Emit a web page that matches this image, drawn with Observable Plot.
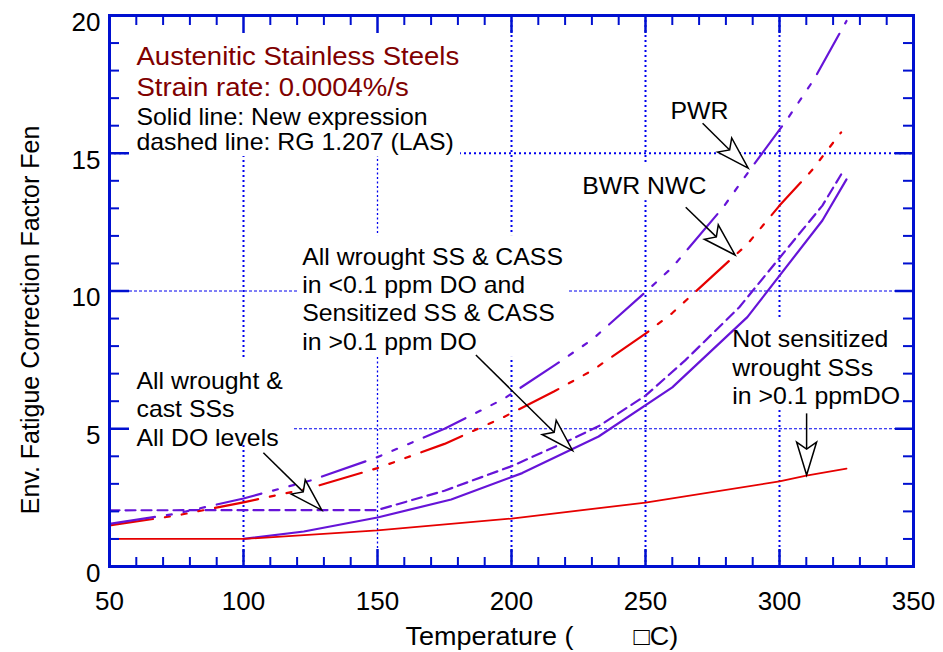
<!DOCTYPE html>
<html>
<head>
<meta charset="utf-8">
<script src="https://cdn.jsdelivr.net/npm/d3@7"></script>
<script src="https://cdn.jsdelivr.net/npm/@observablehq/plot@0.6"></script>
<style>
  html, body { margin: 0; padding: 0; background: #fff; }
  #chart svg { display: block; }
</style>
</head>
<body>
<div id="chart"></div>
<script>
// ---------------- data ----------------
const xTicks = [50, 100, 150, 200, 250, 300, 350];
const yTicks = [0, 5, 10, 15, 20];

// RG 1.207 (dashed) – PWR
const tPWR   = [50, 75, 100, 125, 150, 175, 197, 216, 230, 250, 260, 279, 289, 303, 313, 325];
const fenPWR = [1.55, 1.92, 2.47, 3.12, 3.97, 5.0, 6.08, 7.3, 8.23, 9.96, 10.86, 13.04, 14.4, 16.25, 17.7, 19.8];
// RG 1.207 (dashed) – BWR NWC
const tBWR   = [50, 75, 100, 125, 150, 175, 197, 216, 230, 250, 260, 288, 300, 312, 323];
const fenBWR = [1.49, 1.85, 2.33, 2.85, 3.57, 4.45, 5.42, 6.36, 7.11, 8.45, 9.2, 11.7, 13.1, 14.37, 15.76];
// RG 1.207 (dashed) – all wrought & cast SSs / sensitized
const tSens   = [50, 150, 175, 200, 222, 233, 250, 265, 285, 300, 316, 323];
const fenSens = [2.04, 2.05, 2.75, 3.64, 4.6, 5.12, 6.2, 7.5, 9.41, 11.2, 13.1, 14.23];
// New expression (solid) – all wrought SS & CASS in <0.1 ppm DO ...
const tNew   = [100, 122.5, 150, 177.5, 204, 232.5, 260, 288, 316, 325];
const fenNew = [1.0, 1.27, 1.78, 2.43, 3.39, 4.72, 6.5, 9.05, 12.56, 14.05];
// New expression (solid) – not sensitized wrought SSs in >0.1 ppm DO
const tNotSens   = [50, 100, 150, 200, 250, 260, 300, 310, 325];
const fenNotSens = [1.0, 1.0, 1.31, 1.74, 2.32, 2.47, 3.09, 3.3, 3.55];

// annotations (temperature, Fen at top-left of text)
const titleText = "Austenitic Stainless Steels\nStrain rate: 0.0004%/s";
const titlePos = [60.07, 19.03];
const noteText = "Solid line: New expression\ndashed line: RG 1.207 (LAS)";
const notePos = [60.07, 16.68];
const labels  = ["PWR", "BWR NWC",
  "All wrought SS & CASS\nin <0.1 ppm DO and\nSensitized SS & CASS\nin >0.1 ppm DO",
  "All wrought &\ncast SSs\nAll DO levels",
  "Not sensitized\nwrought SSs\nin >0.1 ppmDO"];
const labelX  = [259.3, 226.4, 121.9, 60.07, 282.4];
const labelY  = [16.97, 14.25, 11.68, 7.17, 8.68];

// arrows: from (x1,y1) to tip (x2,y2)
const arrowX1 = [271.5, 265.2, 186.9, 107.6, 310.3];
const arrowY1 = [16.07, 13.02, 7.66, 4.11, 5.54];
const arrowX2 = [288.5, 283.6, 223.0, 129.4, 310.3];
const arrowY2 = [14.44, 11.29, 4.19, 2.03, 3.30];

// white boxes behind the texts (hide grid lines)
const boxX1 = [56.7, 57.2, 120.5, 223.9, 281];
const boxX2 = [181, 118.7, 220.9, 275, 347];
const boxY1 = [14.88, 4.39, 7.59, 13.28, 5.66];
const boxY2 = [20, 7.48, 12.01, 14.56, 9.0];

// ---------------- styles ----------------
const axisBlue = "#0010d0";
const gridBlue = "#0000ee";
const purple = "#6614d8";
const red = "#e60000";
const darkRed = "#800000";
const W = 943, Hh = 652, mL = 109, mR = 30, mT = 15, mB = 86;
const FW = W - mL - mR, FH = Hh - mT - mB;

const rows = (ts, fs) => ts.map((t, i) => ({t, f: fs[i]}));
const boxes = boxX1.map((d, i) => ({x1: d, x2: boxX2[i], y1: boxY1[i], y2: boxY2[i]}));
const arrows = arrowX1.map((d, i) => ({x1: d, y1: arrowY1[i], x2: arrowX2[i], y2: arrowY2[i]}));
const ann = labels.map((s, i) => ({s, x: labelX[i], y: labelY[i]}));

const xMinor = d3.range(60, 350, 10).filter(d => d % 50 !== 0);
const xMajor = [100, 150, 200, 250, 300];
const yMinor = d3.range(1, 20, 1).filter(d => d % 5 !== 0);
const yMajor = [5, 10, 15];

function arrowMark(list) {
  return (index, scales) => {
    const sx = scales.x, sy = scales.y;
    const g = d3.create("svg:g").attr("aria-label", "arrows");
    for (const a of list) {
      const x1 = sx(a.x1), y1 = sy(a.y1), x2 = sx(a.x2), y2 = sy(a.y2);
      const dx = x2 - x1, dy = y2 - y1, L = Math.hypot(dx, dy);
      const ux = dx / L, uy = dy / L, px = -uy, py = ux;
      const hl = 33, hw = 10, nd = 26;
      const bx = x2 - ux * hl, by = y2 - uy * hl;
      const nx = x2 - ux * nd, ny = y2 - uy * nd;
      g.append("line").attr("x1", x1).attr("y1", y1).attr("x2", nx).attr("y2", ny)
        .attr("stroke", "black").attr("stroke-width", 1.5);
      g.append("path")
        .attr("d", `M${x2},${y2}L${bx + px * hw},${by + py * hw}L${nx},${ny}L${bx - px * hw},${by - py * hw}Z`)
        .attr("fill", "white").attr("stroke", "black").attr("stroke-width", 1.5)
        .attr("stroke-linejoin", "miter");
    }
    return g.node();
  };
}

const plot = Plot.plot({
  width: W, height: Hh,
  marginLeft: mL, marginRight: mR, marginTop: mT, marginBottom: mB,
  x: {domain: [50, 350]},
  y: {domain: [0, 20]},
  style: {fontFamily: "Arial, 'Liberation Sans', sans-serif", background: "white", color: "black"},
  marks: [
    // grid
    Plot.ruleX([100, 200, 250, 300], {x: d => d, stroke: gridBlue, strokeWidth: 2, strokeDasharray: "2,3"}),
    Plot.ruleX([150], {x: d => d, stroke: gridBlue, strokeWidth: 1.3, strokeDasharray: "2,2.5"}),
    Plot.ruleY([15], {y: d => d, stroke: gridBlue, strokeWidth: 2, strokeDasharray: "2,3"}),
    Plot.ruleY([5, 10], {y: d => d, stroke: gridBlue, strokeWidth: 1, strokeDasharray: "3,2"}),
    // white text boxes
    Plot.rect(boxes, {x1: "x1", x2: "x2", y1: "y1", y2: "y2", fill: "white"}),
    // curves
    Plot.line(rows(tNew, fenNew), {x: "t", y: "f", stroke: purple, strokeWidth: 2.2}),
    Plot.line(rows(tNotSens, fenNotSens), {x: "t", y: "f", stroke: red, strokeWidth: 1.8}),
    Plot.line(rows(tSens, fenSens), {x: "t", y: "f", stroke: purple, strokeWidth: 2.2, strokeDasharray: "10,6"}),
    Plot.line(rows(tBWR, fenBWR), {x: "t", y: "f", stroke: red, strokeWidth: 2.2, strokeDasharray: "44,12,5,12,5,12,5,12"}),
    Plot.line(rows(tPWR, fenPWR), {x: "t", y: "f", stroke: purple, strokeWidth: 2.2, strokeDasharray: "46,12,5,12,5,12,5,12"}),
    // inside ticks
    Plot.tickX(xMinor, {x: d => d, insetTop: FH - 9, stroke: axisBlue, strokeWidth: 2}),
    Plot.tickX(xMajor, {x: d => d, insetTop: FH - 17, stroke: axisBlue, strokeWidth: 2.5}),
    Plot.tickX(xMinor, {x: d => d, insetBottom: FH - 10, stroke: axisBlue, strokeWidth: 2}),
    Plot.tickX(xMajor, {x: d => d, insetBottom: FH - 18, stroke: axisBlue, strokeWidth: 2.5}),
    Plot.tickY(yMinor, {y: d => d, insetRight: FW - 10, stroke: axisBlue, strokeWidth: 2}),
    Plot.tickY(yMajor, {y: d => d, insetRight: FW - 20, stroke: axisBlue, strokeWidth: 2.5}),
    Plot.tickY(yMinor, {y: d => d, insetLeft: FW - 10, stroke: axisBlue, strokeWidth: 2}),
    Plot.tickY(yMajor, {y: d => d, insetLeft: FW - 18, stroke: axisBlue, strokeWidth: 2.5}),
    Plot.frame({stroke: axisBlue, strokeWidth: 3}),
    // axes
    Plot.axisX({ticks: xTicks, tickSize: 0, tickPadding: 25.5, fontSize: 26, tickFormat: d => String(d), label: null, anchor: "bottom"}),
    Plot.axisY({ticks: yTicks, tickSize: 0, tickPadding: 9, fontSize: 26, dy: 7, tickFormat: d => String(d), label: null, anchor: "left"}),
    Plot.text(["Env. Fatigue Correction Factor Fen"], {text: d => d, frameAnchor: "left", rotate: -90, dx: -78.5, dy: 29, fontSize: 25, textAnchor: "middle", lineAnchor: "middle", fill: "black"}),
    Plot.text(["Temperature (\u00A0\u00A0\u00A0\u00A0\u00A0\u00A0\u00A0\u00A0\u25A1C)"], {text: d => d, frameAnchor: "bottom-left", dx: 296, dy: 61, fontSize: 25, textAnchor: "start", lineAnchor: "top", fill: "black"}),
    // annotations
    Plot.text([titleText], {text: d => d, x: titlePos[0], y: titlePos[1], fontSize: 25.5, lineHeight: 1.24, textAnchor: "start", lineAnchor: "top", fill: darkRed}),
    Plot.text([noteText], {text: d => d, x: notePos[0], y: notePos[1], fontSize: 23, lineHeight: 1.09, textAnchor: "start", lineAnchor: "top", fill: "black"}),
    Plot.text(ann, {text: "s", x: "x", y: "y", fontSize: 23, lineHeight: 1.23, textAnchor: "start", lineAnchor: "top", fill: "black"}),
    // arrows
    arrowMark(arrows)
  ]
});

// slight horizontal stretch of annotation text, like the original rendering
const SX = 1.08;
plot.querySelectorAll('g[aria-label="text"] text').forEach(t => {
  const tr = t.getAttribute("transform") || "";
  if (tr.includes("rotate")) return;
  if (tr) t.setAttribute("transform", tr + ` scale(${SX},1)`);
  else {
    const x = +t.getAttribute("x") || 0, y = +t.getAttribute("y") || 0;
    t.setAttribute("transform", `translate(${x},${y}) scale(${SX},1) translate(${-x},${-y})`);
  }
});

document.getElementById("chart").appendChild(plot);
</script>
</body>
</html>
